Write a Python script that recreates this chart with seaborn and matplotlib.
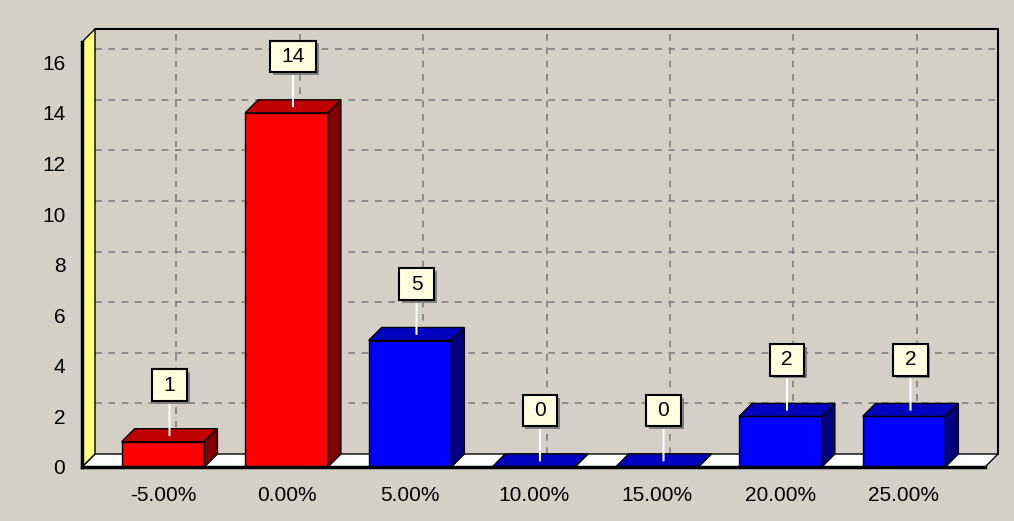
import matplotlib
matplotlib.use('Agg')
import matplotlib.pyplot as plt
import matplotlib.patheffects as pe
from matplotlib.patches import Polygon
from matplotlib.path import Path
from matplotlib.ticker import MultipleLocator
import seaborn as sns
import pandas as pd
import numpy as np

# values
categories = ['-5.00%', '0.00%', '5.00%', '10.00%', '15.00%', '20.00%', '25.00%']
counts = [1, 14, 5, 0, 0, 2, 2]
bar_colors = ['#ff0000', '#ff0000', '#0000ff', '#0000ff', '#0000ff', '#0000ff', '#0000ff']

df = pd.DataFrame({'bucket': categories, 'count': counts})

BG = '#d4d0c8'
sns.set_style('white')
plt.rcParams['font.family'] = ['Liberation Sans', 'DejaVu Sans']

fig = plt.figure(figsize=(10.14, 5.21), dpi=100, facecolor=BG)
ax = fig.add_axes([82 / 1014, 54 / 521, 903 / 1014, 425 / 521])
ax.set_facecolor(BG)

sns.barplot(data=df, x='bucket', y='count', hue='bucket', palette=bar_colors,
            legend=False, width=0.67, edgecolor='black', linewidth=1,
            saturation=1, ax=ax)

xl0, xl1 = -0.656, 6.656
ymax = 16.8
ax.set_xlim(xl0, xl1)
ax.set_ylim(0, ymax)

# depth of the fake 3d box, in pixels -> data units
depth_px = 13
dx = depth_px * (xl1 - xl0) / 903
dy = depth_px * ymax / 425

# back wall grid
for yv in np.arange(2, 17, 2):
    ax.plot([xl0 + dx, xl1 + dx], [yv + dy, yv + dy], color='#808080', lw=1.2,
            ls=(0, (4, 4)), zorder=0.5, clip_on=False)
for xv in range(len(categories)):
    ax.plot([xv + dx, xv + dx], [dy, ymax + dy], color='#808080', lw=1.2,
            ls=(0, (4, 4)), zorder=0.5, clip_on=False)
# back wall outline (top + right)
ax.plot([xl0 + dx, xl1 + dx, xl1 + dx], [ymax + dy, ymax + dy, dy], color='black',
        lw=1.5, zorder=0.6, clip_on=False)

# floor and left wall
floor = Polygon([(xl0, 0), (xl1, 0), (xl1 + dx, dy), (xl0 + dx, dy)], closed=True,
                fc='white', ec='black', lw=1, zorder=1, clip_on=False)
ax.add_patch(floor)
wall = Polygon([(xl0, 0), (xl0, ymax), (xl0 + dx, ymax + dy), (xl0 + dx, dy)], closed=True,
               fc='#ffff80', ec='black', lw=1, zorder=1, clip_on=False)
ax.add_patch(wall)

# 3d faces for each bar
bars = list(ax.patches[:len(categories)])
for p in bars:
    p.set_zorder(3)
    x, w, h = p.get_x(), p.get_width(), p.get_height()
    rgb = np.array(p.get_facecolor()[:3])
    top = Polygon([(x, h), (x + w, h), (x + w + dx, h + dy), (x + dx, h + dy)], closed=True,
                  fc=rgb * 0.75, ec='black', lw=1, zorder=3, clip_on=False)
    side = Polygon([(x + w, 0), (x + w, h), (x + w + dx, h + dy), (x + w + dx, dy)], closed=True,
                   fc=rgb * 0.5, ec='black', lw=1, zorder=3, clip_on=False)
    ax.add_patch(top)
    ax.add_patch(side)


# wider than tall padding, like the marks callouts
def label_box(x0, y0, width, height, mutation_size):
    padx = 0.55 * mutation_size
    pady = 0.3 * mutation_size
    x0, y0 = x0 - padx, y0 - pady
    x1, y1 = x0 + width + 2 * padx, y0 + height + 2 * pady
    return Path([(x0, y0), (x1, y0), (x1, y1), (x0, y1), (x0, y0)], closed=True)


# callout labels
for p in bars:
    cx = p.get_x() + p.get_width() / 2 + dx / 2
    h = p.get_height()
    ann = ax.annotate(f'{int(h)}', xy=(cx, h + dy / 2), xytext=(0, 50),
                      textcoords='offset pixels', ha='center', va='center',
                      fontsize=15, color='black', zorder=5,
                      bbox=dict(boxstyle=label_box, fc='#ffffe0', ec='black', lw=1.5),
                      arrowprops=dict(arrowstyle='-', color='white', lw=1.5,
                                      shrinkA=0, shrinkB=0))
    ann.get_bbox_patch().set_path_effects([
        pe.SimplePatchShadow(offset=(2, -2), shadow_rgbFace='#808080', alpha=1),
        pe.Normal()])

# axes styling
for s in ['top', 'right']:
    ax.spines[s].set_visible(False)
for s in ['left', 'bottom']:
    ax.spines[s].set_linewidth(2.5)
    ax.spines[s].set_color('black')
    ax.spines[s].set_zorder(4)

ax.yaxis.set_major_locator(MultipleLocator(2))
ax.yaxis.set_minor_locator(MultipleLocator(0.5))
ax.xaxis.set_minor_locator(MultipleLocator(0.25))
ax.tick_params(axis='both', which='major', direction='out', length=6, width=1,
               color='#303030', labelsize=15, labelcolor='black')
ax.tick_params(axis='both', which='minor', direction='out', length=4, width=1, color='#303030')
ax.tick_params(axis='y', pad=6)
ax.tick_params(axis='x', pad=8)
ax.set_xlabel('')
ax.set_ylabel('')

fig.savefig('out.png', dpi=100, facecolor=BG)
